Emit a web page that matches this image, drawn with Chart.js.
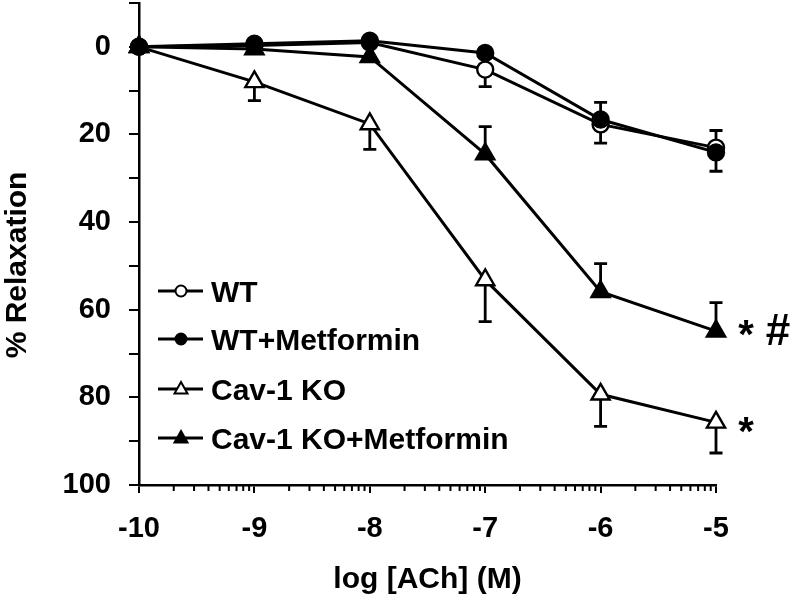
<!DOCTYPE html>
<html>
<head>
<meta charset="utf-8">
<script src="https://cdn.jsdelivr.net/npm/chart.js@4.4.1/dist/chart.umd.min.js"></script>
<style>
html, body { margin: 0; padding: 0; background: #fff; }
#wrap { width: 795px; height: 607px; }
</style>
</head>
<body>
<div id="wrap"><canvas id="chart"></canvas></div>
<script>
// values (% relaxation, mean and one-sided SEM)
var logDose = [-10, -9, -8, -7, -6, -5];
var seriesNames = ['WT', 'WT+Metformin', 'Cav-1 KO', 'Cav-1 KO+Metformin'];
var wt = [0, -0.3, -1, 5.2, 17.7, 23];
var wtErr = [0, 0, 0, 3.9, 4.3, 5.4];
var wtMet = [0, -0.7, -1.4, 1.4, 16.6, 24.1];
var wtMetErr = [0, 0, 0, 1, 3.9, 5];
var cavKo = [0, 8, 17.6, 53.2, 79.3, 85.7];
var cavKoErr = [0, 4.3, 5.8, 9.5, 7.3, 7];
var cavKoMet = [0, 0.5, 2.3, 24.5, 55.9, 64.9];
var cavKoMetErr = [0, 0, 0, 6.3, 6.4, 6.5];
var yLabels = [0, 20, 40, 60, 80, 100];

var FONT = '"Liberation Sans", Arial, Helvetica, sans-serif';

function pts(vals) {
    return logDose.map(function(x, i) { return {x: x, y: vals[i]}; });
}

function series(i, vals, errs, dir, style, fill, radius, order) {
    return {
        label: seriesNames[i],
        data: pts(vals),
        errors: errs,
        errDir: dir,
        borderColor: '#000',
        borderWidth: 3,
        pointStyle: style,
        pointRadius: radius,
        pointHoverRadius: radius,
        pointBackgroundColor: fill,
        pointBorderColor: '#000',
        pointBorderWidth: 2.4,
        tension: 0,
        clip: false,
        order: order
    };
}

var errorBars = {
    id: 'errorBars',
    beforeDatasetsDraw: function(chart) {
        var ctx = chart.ctx, xs = chart.scales.x, ys = chart.scales.y;
        ctx.save();
        ctx.strokeStyle = '#000';
        ctx.lineWidth = 2.8;
        chart.data.datasets.forEach(function(ds) {
            ds.data.forEach(function(p, i) {
                var e = ds.errors[i];
                if (!e) return;
                var x = xs.getPixelForValue(p.x);
                var y0 = ys.getPixelForValue(p.y);
                var y1 = ys.getPixelForValue(p.y + ds.errDir * e);
                ctx.beginPath();
                ctx.moveTo(x, y0);
                ctx.lineTo(x, y1);
                ctx.moveTo(x - 6.5, y1);
                ctx.lineTo(x + 6.5, y1);
                ctx.stroke();
            });
        });
        ctx.restore();
    }
};

// log-style minor ticks between the decades
var minorTicks = {
    id: 'minorTicks',
    afterDraw: function(chart) {
        var ctx = chart.ctx, xs = chart.scales.x, bottom = chart.chartArea.bottom;
        ctx.save();
        ctx.strokeStyle = '#000';
        ctx.lineWidth = 2;
        for (var d = -10; d < -5; d++) {
            for (var k = 2; k <= 9; k++) {
                var x = xs.getPixelForValue(d + Math.log10(k));
                ctx.beginPath();
                ctx.moveTo(x, bottom);
                ctx.lineTo(x, bottom + 6);
                ctx.stroke();
            }
        }
        ctx.restore();
    }
};

// y title drawn by hand so it sits where the original has it
var yTitle = {
    id: 'yTitle',
    afterDraw: function(chart) {
        var ctx = chart.ctx;
        ctx.save();
        ctx.translate(18, 265);
        ctx.rotate(-Math.PI / 2);
        ctx.fillStyle = '#000';
        ctx.font = 'bold 30px ' + FONT;
        ctx.textAlign = 'center';
        ctx.textBaseline = 'middle';
        ctx.fillText('% Relaxation', 0, 0);
        ctx.restore();
    }
};

var legendBox = {
    id: 'legendBox',
    afterDraw: function(chart) {
        var ctx = chart.ctx;
        var rows = [291, 339, 389, 438];
        var styles = [['circle', '#fff'], ['circle', '#000'], ['triangle', '#fff'], ['triangle', '#000']];
        ctx.save();
        ctx.strokeStyle = '#000';
        ctx.fillStyle = '#000';
        rows.forEach(function(y, i) {
            ctx.lineWidth = 2.8;
            ctx.beginPath();
            ctx.moveTo(158, y);
            ctx.lineTo(203, y);
            ctx.stroke();
            ctx.lineWidth = 2;
            ctx.fillStyle = styles[i][1];
            ctx.beginPath();
            if (styles[i][0] === 'circle') {
                ctx.arc(181, y, 5.5, 0, Math.PI * 2);
            } else {
                ctx.moveTo(181, y - 7);
                ctx.lineTo(187.5, y + 4.5);
                ctx.lineTo(174.5, y + 4.5);
                ctx.closePath();
            }
            ctx.fill();
            ctx.stroke();
            ctx.fillStyle = '#000';
            ctx.font = 'bold 30px ' + FONT;
            ctx.textAlign = 'left';
            ctx.textBaseline = 'alphabetic';
            ctx.fillText(seriesNames[i], 211, y + 11);
        });
        ctx.restore();
    }
};

// significance marks next to the last points
var marks = {
    id: 'marks',
    afterDraw: function(chart) {
        var ctx = chart.ctx, xs = chart.scales.x, ys = chart.scales.y;
        var px = xs.getPixelForValue(-5);
        var list = [
            {text: '*', y: cavKoMet[5], dx: 30, dy: 17, size: 40},
            {text: '#', y: cavKoMet[5], dx: 62, dy: 14, size: 44},
            {text: '*', y: cavKo[5], dx: 30, dy: 23, size: 40}
        ];
        ctx.save();
        ctx.fillStyle = '#000';
        ctx.textAlign = 'center';
        ctx.textBaseline = 'alphabetic';
        list.forEach(function(m) {
            ctx.font = 'bold ' + m.size + 'px ' + FONT;
            ctx.fillText(m.text, px + m.dx, ys.getPixelForValue(m.y) + m.dy);
        });
        ctx.restore();
    }
};

var ctx = document.getElementById('chart').getContext('2d');
var myChart = new Chart(ctx, {
    type: 'line',
    data: {
        datasets: [
            series(0, wt, wtErr, 1, 'circle', '#fff', 8, 1),
            series(1, wtMet, wtMetErr, -1, 'circle', '#000', 8, 0),
            series(2, cavKo, cavKoErr, 1, 'triangle', '#fff', 10.5, 3),
            series(3, cavKoMet, cavKoMetErr, -1, 'triangle', '#000', 10.5, 2)
        ]
    },
    options: {
        responsive: true,
        maintainAspectRatio: false,
        animation: false,
        layout: { autoPadding: false, padding: { top: 3, right: 79, left: 0, bottom: 0 } },
        plugins: {
            legend: { display: false },
            tooltip: { enabled: false }
        },
        scales: {
            x: {
                type: 'linear',
                min: -10,
                max: -5,
                ticks: {
                    stepSize: 1,
                    color: '#000',
                    padding: 19,
                    font: { family: FONT, size: 29, weight: 'bold' }
                },
                grid: { drawOnChartArea: false, color: '#000', lineWidth: 2, tickLength: 8 },
                border: { color: '#000', width: 2.5 },
                title: {
                    display: true,
                    text: 'log [ACh] (M)',
                    color: '#000',
                    padding: { top: 0, bottom: 9 },
                    font: { family: FONT, size: 30, weight: 'bold' }
                },
                afterFit: function(scale) { scale.height = 122; }
            },
            y: {
                type: 'linear',
                reverse: true,
                min: -10,
                max: 100,
                ticks: {
                    stepSize: 10,
                    color: '#000',
                    padding: 18,
                    font: { family: FONT, size: 29, weight: 'bold' },
                    callback: function(v) { return yLabels.indexOf(v) >= 0 ? String(v) : ''; }
                },
                grid: { drawOnChartArea: false, color: '#000', lineWidth: 2, tickLength: 10 },
                border: { color: '#000', width: 2.5 },
                afterFit: function(scale) {
                    scale.width = 139;
                    scale.paddingTop = 0;
                    scale.paddingBottom = 0;
                }
            }
        }
    },
    plugins: [errorBars, minorTicks, yTitle, legendBox, marks]
});
</script>
</body>
</html>
